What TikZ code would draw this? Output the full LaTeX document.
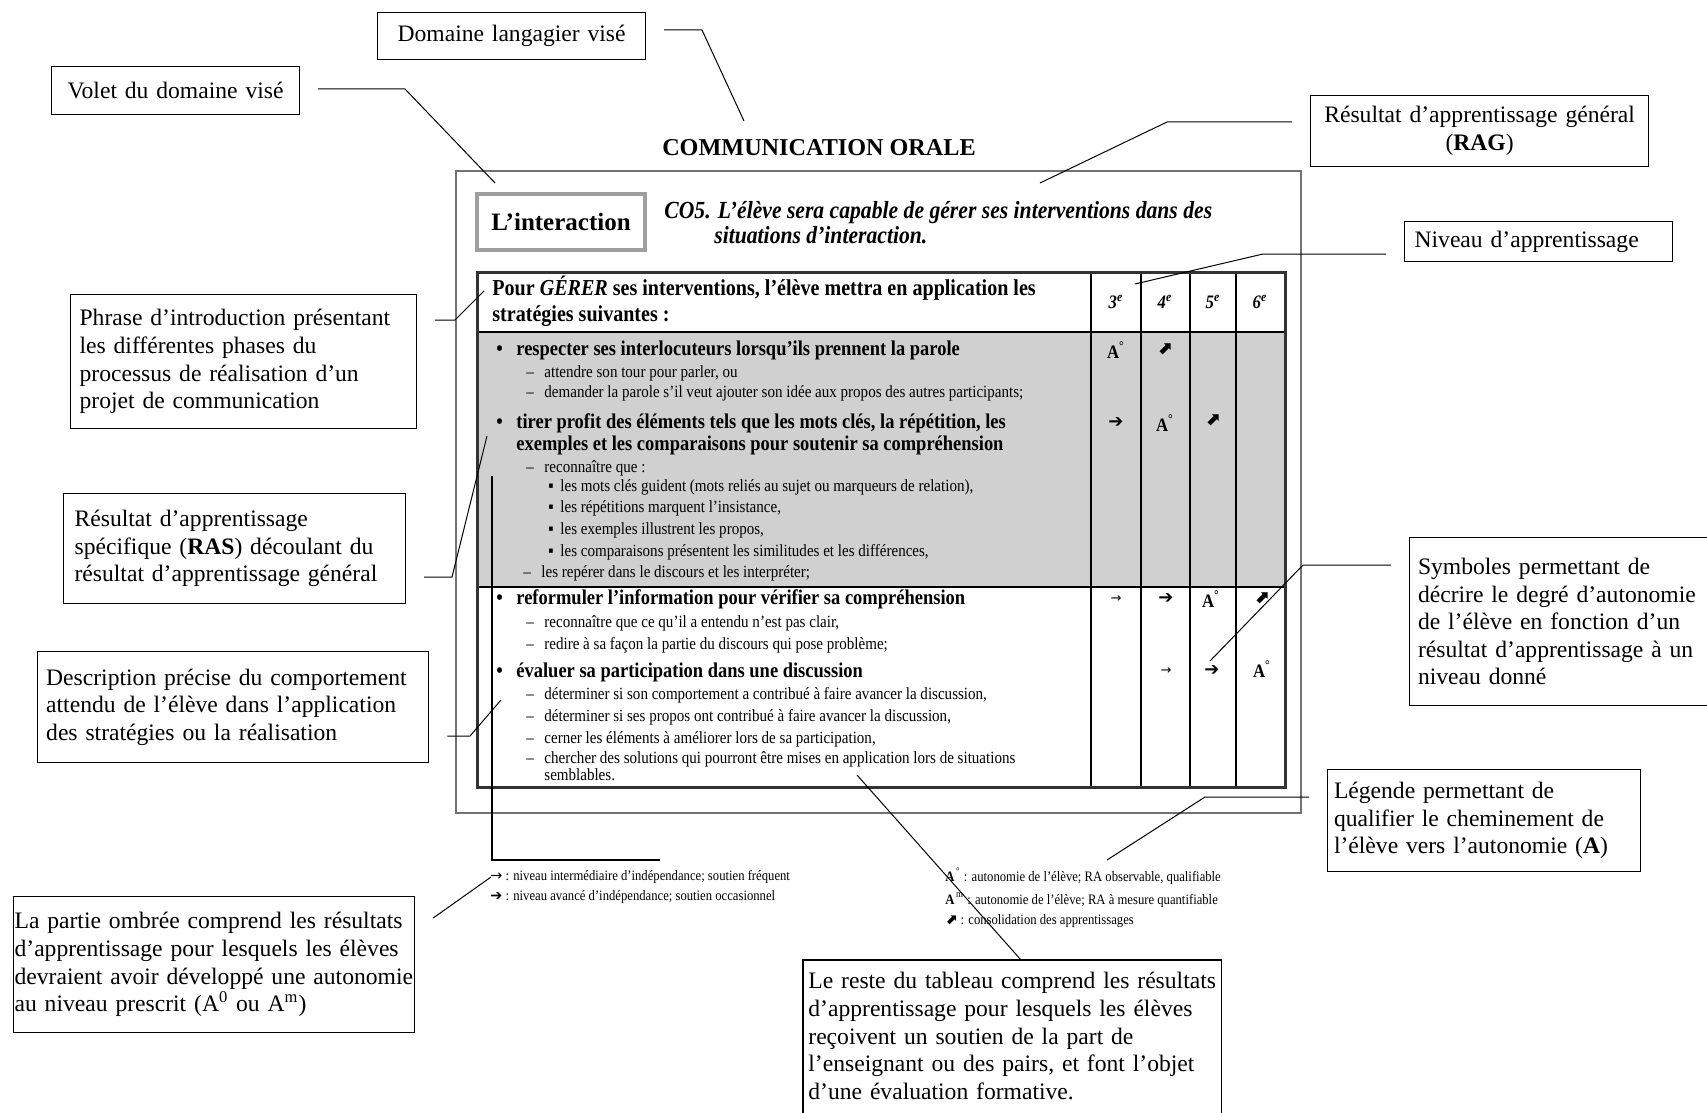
\documentclass[tikz,border=0pt]{standalone}
\usepackage{fontspec}
\setmainfont{Liberation Serif}
\newfontfamily\scanfont[FakeStretch=0.88]{Liberation Serif}
\newfontfamily\symfont{DejaVu Sans}
\hyphenpenalty=10000
\exhyphenpenalty=10000

\definecolor{shadegray}{HTML}{D0D0D0}

\tikzset{
  note/.style={draw=black, line width=0.6pt, anchor=north west, inner ysep=0pt,
    font=\fontsize{11.8}{13.8}\selectfont},
  callout/.style={draw=black, line width=0.5pt, shorten <=9pt},
  scanline/.style={anchor=west, inner sep=0pt, text height=0.7em, text depth=0.2em},
  hdrtext/.style={scanline, font={\fontsize{11.4}{13}\scanfont\bfseries}},
  itemtext/.style={scanline, font={\fontsize{10.5}{12}\scanfont\bfseries}},
  subtext/.style={scanline, font={\fontsize{8.55}{10}\scanfont}},
  legtext/.style={scanline, font={\fontsize{7.2}{8}\scanfont}},
  symb/.style={inner sep=0pt, font={\fontsize{9.5}{10}\scanfont\bfseries}},
  arrsymb/.style={inner sep=0pt, font={\fontsize{9}{10}\symfont\bfseries}}
}

\begin{document}
\begin{tikzpicture}[x=0.5pt,y=-0.5pt]
  \useasboundingbox (0,0) rectangle (1707,1113);
  \coordinate (page-bot) at (0,1113);

  % the scanned page
  \draw[black!55, line width=0.8pt] (456,171) rectangle (1301,813);
  \node[font={\fontsize{12.1}{14}\selectfont\bfseries}] (titre) at (819,148) {COMMUNICATION ORALE};
  \node[draw=gray!75, line width=1.8pt, minimum width=84pt, minimum height=28pt, inner sep=0pt,
    font={\fontsize{12.5}{14}\selectfont\bfseries}] (interaction) at (561,222) {L’interaction};
  \node[scanline, font={\fontsize{12.3}{14}\scanfont\bfseries\itshape}] (co1) at (664,213)
    {CO5. L’élève sera capable de gérer ses interventions dans des};
  \node[scanline, font={\fontsize{12.3}{14}\scanfont\bfseries\itshape}] (co2) at (714,238)
    {situations d’interaction.};

  % table
  \fill[shadegray] (477,332) rectangle (1285,587);
  \draw[line width=1pt] (477,332) -- (1285,332) (477,587) -- (1285,587);
  \foreach \x in {1091,1141,1190,1236}
    \draw[line width=1pt] (\x,272) -- (\x,787);
  \draw[line width=1.5pt, black!80] (477,272) rectangle (1285,787);

  \node[hdrtext] (hdr1) at (492,290) {Pour \textit{GÉRER} ses interventions, l’élève mettra en application les};
  \node[hdrtext] (hdr2) at (492,316) {stratégies suivantes :};
  \node[symb, font={\fontsize{9.5}{10}\scanfont\bfseries\itshape}] (n3) at (1116,302) {3\textsuperscript{e}};
  \node[symb, font={\fontsize{9.5}{10}\scanfont\bfseries\itshape}] (n4) at (1165,302) {4\textsuperscript{e}};
  \node[symb, font={\fontsize{9.5}{10}\scanfont\bfseries\itshape}] (n5) at (1213,302) {5\textsuperscript{e}};
  \node[symb, font={\fontsize{9.5}{10}\scanfont\bfseries\itshape}] (n6) at (1260,302) {6\textsuperscript{e}};

  % shaded part
  \node[itemtext] (b1) at (496,350) {•};
  \node[itemtext] (i1) at (516,350) {respecter ses interlocuteurs lorsqu’ils prennent la parole};
  \node[subtext] (d1) at (526,372) {–};
  \node[subtext] (s1) at (544,372) {attendre son tour pour parler, ou};
  \node[subtext] (d2) at (526,392) {–};
  \node[subtext] (s2) at (544,392) {demander la parole s’il veut ajouter son idée aux propos des autres participants;};
  \node[itemtext] (b2) at (496,423) {•};
  \node[itemtext] (i2) at (516,423) {tirer profit des éléments tels que les mots clés, la répétition, les};
  \node[itemtext] (i2b) at (516,445) {exemples et les comparaisons pour soutenir sa compréhension};
  \node[subtext] (d3) at (526,467) {–};
  \node[subtext] (s3) at (544,467) {reconnaître que :};
  \node[subtext] (m1) at (548,486) {▪};
  \node[subtext] (s4) at (560,486) {les mots clés guident (mots reliés au sujet ou marqueurs de relation),};
  \node[subtext] (m2) at (548,507) {▪};
  \node[subtext] (s5) at (560,507) {les répétitions marquent l’insistance,};
  \node[subtext] (m3) at (548,529) {▪};
  \node[subtext] (s6) at (560,529) {les exemples illustrent les propos,};
  \node[subtext] (m4) at (548,551) {▪};
  \node[subtext] (s7) at (560,551) {les comparaisons présentent les similitudes et les différences,};
  \node[subtext] (d4) at (523,572) {–};
  \node[subtext] (s8) at (541,572) {les repérer dans le discours et les interpréter;};

  % white part
  \node[itemtext] (b3) at (496,599) {•};
  \node[itemtext] (i3) at (516,599) {reformuler l’information pour vérifier sa compréhension};
  \node[subtext] (d5) at (526,622) {–};
  \node[subtext] (s9) at (544,622) {reconnaître que ce qu’il a entendu n’est pas clair,};
  \node[subtext] (d6) at (526,644) {–};
  \node[subtext] (s10) at (544,644) {redire à sa façon la partie du discours qui pose problème;};
  \node[itemtext] (b4) at (496,672) {•};
  \node[itemtext] (i4) at (516,672) {évaluer sa participation dans une discussion};
  \node[subtext] (d7) at (526,694) {–};
  \node[subtext] (s11) at (544,694) {déterminer si son comportement a contribué à faire avancer la discussion,};
  \node[subtext] (d8) at (526,716) {–};
  \node[subtext] (s12) at (544,716) {déterminer si ses propos ont contribué à faire avancer la discussion,};
  \node[subtext] (d9) at (526,738) {–};
  \node[subtext] (s13) at (544,738) {cerner les éléments à améliorer lors de sa participation,};
  \node[subtext] (d10) at (526,758) {–};
  \node[subtext] (s14) at (544,758) {chercher des solutions qui pourront être mises en application lors de situations};
  \node[subtext] (s15) at (544,775) {semblables.};

  % levels
  \node[symb] (a11) at (1116,350) {A\textsuperscript{°}};
  \node[arrsymb] (a12) at (1165,349) {⬈};
  \node[arrsymb] (a21) at (1116,423) {➔};
  \node[symb] (a22) at (1165,423) {A\textsuperscript{°}};
  \node[arrsymb] (a23) at (1213,420) {⬈};
  \node[arrsymb, font={\fontsize{6.5}{7}\symfont}] (a31) at (1116,599) {→};
  \node[arrsymb] (a32) at (1166,599) {➔};
  \node[symb] (a33) at (1211,599) {A\textsuperscript{°}};
  \node[arrsymb] (a34) at (1262,598) {⬈};
  \node[arrsymb, font={\fontsize{6.5}{7}\symfont}] (a42) at (1166,671) {→};
  \node[arrsymb] (a43) at (1212,671) {➔};
  \node[symb] (a44) at (1262,669) {A\textsuperscript{°}};

  % footnote rule and legend
  \coordinate (v-top) at (492,476);
  \coordinate (v-bot) at (492,860);
  \coordinate (v-end) at (660,860);
  \draw[line width=0.6pt] (v-top) -- (v-bot) -- (v-end);
  \node[legtext] (lg1) at (490,875) {{\symfont →} : niveau intermédiaire d’indépendance; soutien fréquent};
  \node[legtext] (lg2) at (490,895) {{\symfont\bfseries ➔} : niveau avancé d’indépendance; soutien occasionnel};
  \node[legtext] (lg3) at (945,876) {\textbf{A}\textsuperscript{\,°} : autonomie de l’élève; RA observable, qualifiable};
  \node[legtext] (lg4) at (945,899) {\textbf{A}\textsuperscript{\,m} : autonomie de l’élève; RA à mesure quantifiable};
  \node[legtext] (lg5) at (945,919) {{\symfont\bfseries ⬈} : consolidation des apprentissages};

  % callout boxes
  \node[note, align=center, text width=125pt, inner xsep=4.5pt, minimum height=23.5pt] (domaine) at (377,12)
    {Domaine langagier visé};
  \node[note, align=center, text width=115pt, inner xsep=4.5pt, minimum height=24pt] (volet) at (51,66)
    {Volet du domaine visé};
  \node[note, align=center, text width=160pt, inner xsep=4.5pt, minimum height=35.5pt] (rag) at (1310,95)
    {Résultat d’apprentissage général\\(\textbf{RAG})};
  \node[note, align=left, text width=124pt, inner xsep=5pt, minimum height=20pt] (niveau) at (1404,221)
    {Niveau d’apprentissage};
  \node[note, align=left, text width=164pt, inner xsep=4.5pt, minimum height=67pt] (phrase) at (70,294)
    {Phrase d’introduction présentant\\les différentes phases du\\processus de réalisation d’un\\projet de communication};
  \node[note, align=left, text width=160pt, inner xsep=5.5pt, minimum height=55pt] (ras) at (63,493)
    {Résultat d’apprentissage\\spécifique (\textbf{RAS}) découlant du\\résultat d’apprentissage général};
  \node[note, align=left, text width=187pt, inner xsep=4.3pt, minimum height=55.5pt] (descr) at (37,651)
    {Description précise du comportement\\attendu de l’élève dans l’application\\des stratégies ou la réalisation};
  \node[note, align=left, text width=146pt, inner xsep=4.2pt, minimum height=84pt] (symboles) at (1409,537)
    {Symboles permettant de\\décrire le degré d’autonomie\\de l’élève en fonction d’un\\résultat d’apprentissage à un\\niveau donné};
  \node[note, align=left, text width=150pt, inner xsep=3.2pt, minimum height=51pt] (legende) at (1327,769)
    {Légende permettant de\\qualifier le cheminement de\\l’élève vers l’autonomie (\textbf{A})};
  \node[note, align=left, text width=199.5pt, inner xsep=0.5pt, minimum height=68pt] (partie) at (13,896)
    {La partie ombrée comprend les résultats\\d’apprentissage pour lesquels les élèves\\devraient avoir développé une autonomie\\au niveau prescrit (A\textsuperscript{0} ou A\textsuperscript{m})};
  \node[anchor=north west, inner ysep=6pt, align=left, text width=204pt, inner xsep=2.5pt,
    font=\fontsize{11.8}{13.8}\selectfont] (reste) at (803,960)
    {Le reste du tableau comprend les résultats\\d’apprentissage pour lesquels les élèves\\reçoivent un soutien de la part de\\l’enseignant ou des pairs, et font l’objet\\d’une évaluation formative.};
  \draw[line width=0.6pt] (reste.north west |- page-bot) -- (reste.north west) -- (reste.north east) -- (reste.north east |- page-bot);

  % callout lines
  \coordinate (k-domaine) at (702,30);   \coordinate (t-domaine) at (744,121);
  \coordinate (k-volet) at (405,89);     \coordinate (t-volet) at (495,183);
  \coordinate (k-rag) at (1167,122);     \coordinate (t-rag) at (1040,183);
  \coordinate (k-niveau) at (1263,254);  \coordinate (t-niveau) at (1135,284);
  \coordinate (k-phrase) at (455,320);   \coordinate (t-phrase) at (484,291);
  \coordinate (k-ras) at (452,577);      \coordinate (t-ras) at (487,436);
  \coordinate (k-descr) at (470,736);    \coordinate (t-descr) at (501,700);
  \coordinate (k-symb) at (1303,565);    \coordinate (t-symb) at (1210,661);
  \coordinate (k-legende) at (1205,797); \coordinate (t-legende) at (1107,860);
  \coordinate (t-partie) at (491,877);
  \coordinate (t-reste) at (857,775);

  \draw[callout] (domaine.east |- k-domaine) -- (k-domaine) -- (t-domaine);
  \draw[callout] (volet.east |- k-volet) -- (k-volet) -- (t-volet);
  \draw[callout] (rag.west |- k-rag) -- (k-rag) -- (t-rag);
  \draw[callout] (niveau.west |- k-niveau) -- (k-niveau) -- (t-niveau);
  \draw[callout] (phrase.east |- k-phrase) -- (k-phrase) -- (t-phrase);
  \draw[callout] (ras.east |- k-ras) -- (k-ras) -- (t-ras);
  \draw[callout] (descr.east |- k-descr) -- (k-descr) -- (t-descr);
  \draw[callout] (symboles.west |- k-symb) -- (k-symb) -- (t-symb);
  \draw[callout] (legende.west |- k-legende) -- (k-legende) -- (t-legende);
  \draw[callout, shorten <=0pt] ([xshift=9pt,yshift=-11pt]partie.north east) -- (t-partie);
  \draw[callout, shorten <=0pt] ([xshift=109pt]reste.north west) -- (t-reste);
\end{tikzpicture}
\end{document}
